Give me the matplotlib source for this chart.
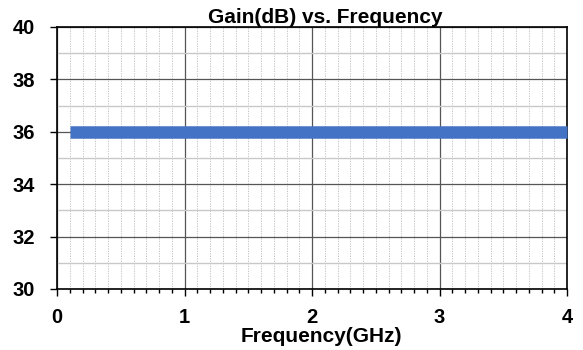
import matplotlib
matplotlib.use("Agg")
import matplotlib.pyplot as plt
from matplotlib.ticker import MultipleLocator

plt.rcParams['font.family'] = ['Liberation Sans', 'DejaVu Sans']

freq_ghz = [0.1, 0.5, 1.0, 1.5, 2.0, 2.5, 3.0, 3.5, 4.0]
gain_db = [36.0, 36.0, 36.0, 36.0, 36.0, 36.0, 36.0, 36.0, 36.0]
x_ticks = [0, 1, 2, 3, 4]
y_ticks = [30, 32, 34, 36, 38, 40]

fig = plt.figure(figsize=(5.83, 3.5), dpi=100)
ax = fig.add_axes([0.0978, 0.1743, 0.8748, 0.7486])

ax.plot(freq_ghz, gain_db, color='#4472C4', linewidth=9, solid_capstyle='butt', zorder=5, clip_on=False)

ax.set_xlim(0, 4)
ax.set_ylim(30, 40)
ax.set_xticks(x_ticks)
ax.set_yticks(y_ticks)
ax.xaxis.set_minor_locator(MultipleLocator(0.1))
ax.yaxis.set_minor_locator(MultipleLocator(1))

ax.grid(which='major', color='#555555', linewidth=0.9)
ax.grid(which='minor', axis='x', color='#bbbbbb', linewidth=0.6, linestyle=(0, (1.5, 1.5)))
ax.grid(which='minor', axis='y', color='#c8c8c8', linewidth=1.0)
ax.set_axisbelow(True)

for s in ax.spines.values():
    s.set_color('black')
    s.set_linewidth(1.2)

ax.tick_params(which='major', direction='out', length=5, width=1, labelsize=14.5)
ax.tick_params(which='minor', direction='out', length=3, width=1)
ax.tick_params(axis='y', which='minor', length=0)
ax.tick_params(axis='y', pad=11)
ax.tick_params(axis='x', pad=9)
for lbl in ax.get_xticklabels() + ax.get_yticklabels():
    lbl.set_fontweight('bold')

ax.set_title('Gain(dB) vs. Frequency', fontsize=15, fontweight='bold', pad=2, x=0.525)
ax.set_xlabel('Frequency(GHz)', fontsize=15, fontweight='bold', labelpad=0, x=0.518)

fig.savefig('out.png', dpi=100)
